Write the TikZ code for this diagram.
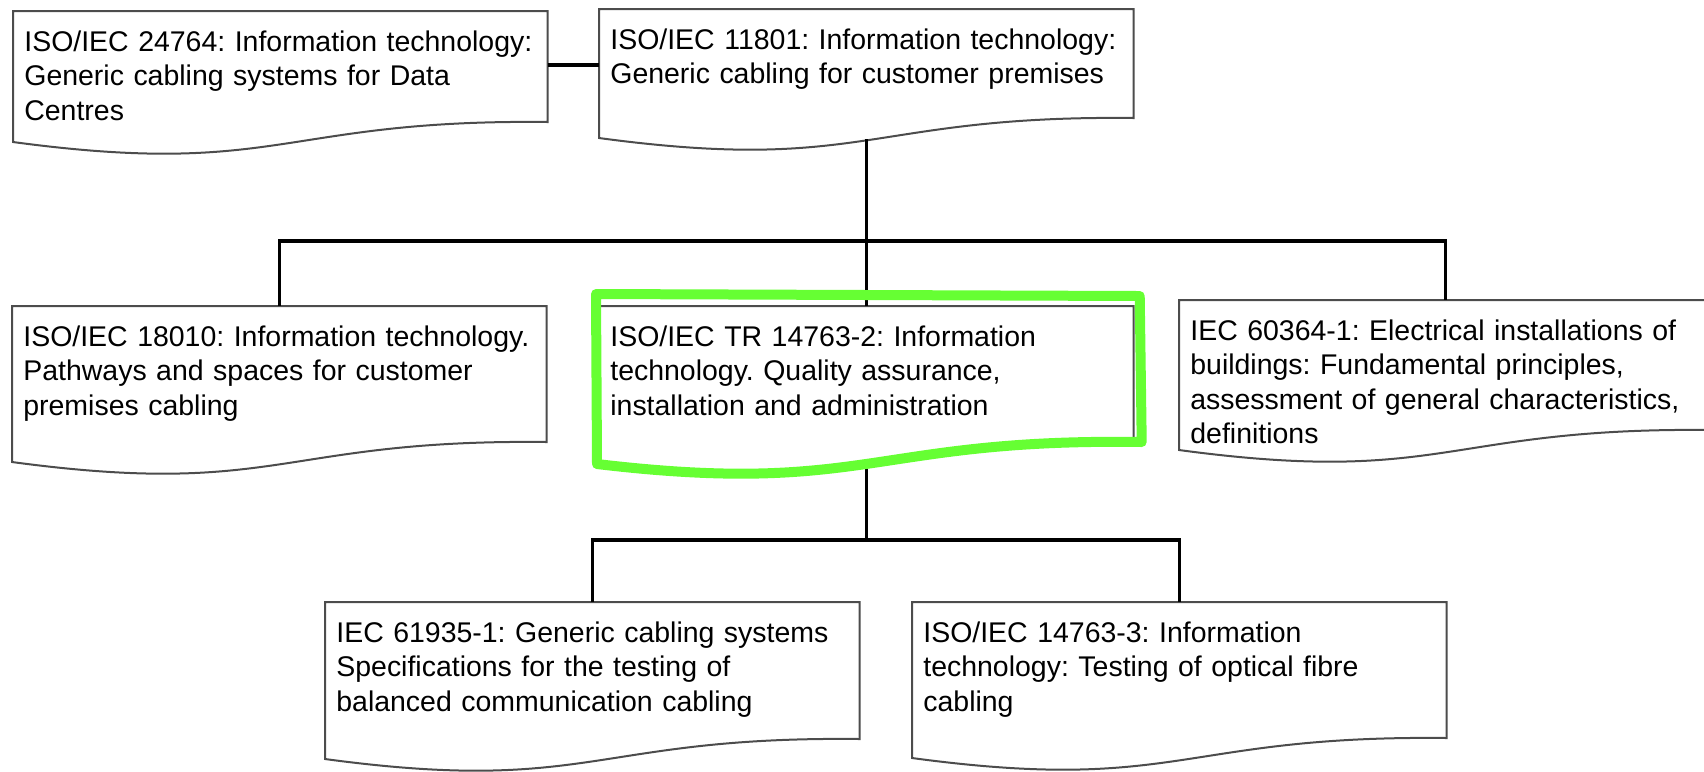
\documentclass[tikz,border=0pt]{standalone}
\usepackage{fontspec}
\setmainfont{Liberation Sans}
\usetikzlibrary{calc}
\usetikzlibrary{positioning}
\frenchspacing
\hyphenpenalty=10000
\definecolor{marker}{HTML}{66FF33}
\newcommand{\docfont}{\fontsize{16.2}{19.6}\selectfont}
\tikzset{
    docbox/.style={anchor=north west, inner xsep=2.2mm, inner ysep=3.9mm, align=left, text width=#1,
        font=\docfont},
    docbox/.default={102.4mm},
    docline/.style={draw=black!70, line width=0.4mm},
    link/.style={line width=0.7mm},
    marker line/.style={draw=marker, line width=2mm, line cap=round, line join=round},
}
\newcommand{\docedge}[2]{% node name, height of the right side
    \draw[docline] (#1.north west) -- (#1.north east) -- ++(0,#2)
        .. controls +(-267,-3) and +(267,36) .. ($(#1.north west)+(0,#2+20)$) -- cycle;
}

\begin{document}
\begin{tikzpicture}[x=0.2mm, y=-0.2mm] % tree of cabling standards
	\useasboundingbox (0,0) rectangle (1704,771);
	\clip (0,0) rectangle (1704,771);
	\node[docbox] (iso24764) at (13,11) {ISO/IEC 24764: Information technology:\\Generic cabling systems for Data\\Centres};
	\node[docbox] (iso11801) at (599,9) {ISO/IEC 11801: Information technology:\\Generic cabling for customer premises};
	\node[docbox] (iso18010) at (12,306) {ISO/IEC 18010: Information technology.\\Pathways and spaces for customer\\premises cabling};
	\node[docbox] (iso14763b) at (599,306) {ISO/IEC TR 14763-2: Information\\technology. Quality assurance,\\installation and administration};
	\node[docbox=102mm] (iec60364) at (1179,300) {IEC 60364-1: Electrical installations of\\buildings: Fundamental principles,\\assessment of general characteristics,\\definitions};
	\node[docbox] (iec61935) at (325,602) {IEC 61935-1: Generic cabling systems\\Specifications for the testing of\\balanced communication cabling};
	\node[docbox] (iso14763c) at (912,602) {ISO/IEC 14763-3: Information\\technology: Testing of optical fibre\\cabling};
	\foreach \n/\h in {iso24764/111, iso11801/109, iso18010/136, iso14763b/136, iec60364/130, iec61935/137, iso14763c/136}
	\docedge{\n}{\h}
	\coordinate (busA) at ($(iso11801.north)+(0,232)$);
	\coordinate (busB) at ($(iso14763b.north)+(0,234)$);
	\draw[link] ($(iso24764.north east)+(0,54)$) -- ($(iso11801.north west)+(0,56)$);
	\draw[link] ($(iso11801.north)+(0,130)$) -- (iso14763b.north);
	\draw[link] (iso18010.north) |- (busA) -| (iec60364.north);
	\draw[link] ($(iso14763b.north)+(0,156)$) -- (busB);
	\draw[link] (iec61935.north) |- (busB) -| (iso14763c.north);
	\draw[marker line] ($(iso14763b.north west)+(-3,-12)$) -- ($(iso14763b.north east)+(6,-10)$) -- ($(iso14763b.north east)+(8,136)$)
		.. controls +(-270,-4) and +(270,32) .. ($(iso14763b.north west)+(-2,158)$) -- cycle;
\end{tikzpicture}
\end{document}
